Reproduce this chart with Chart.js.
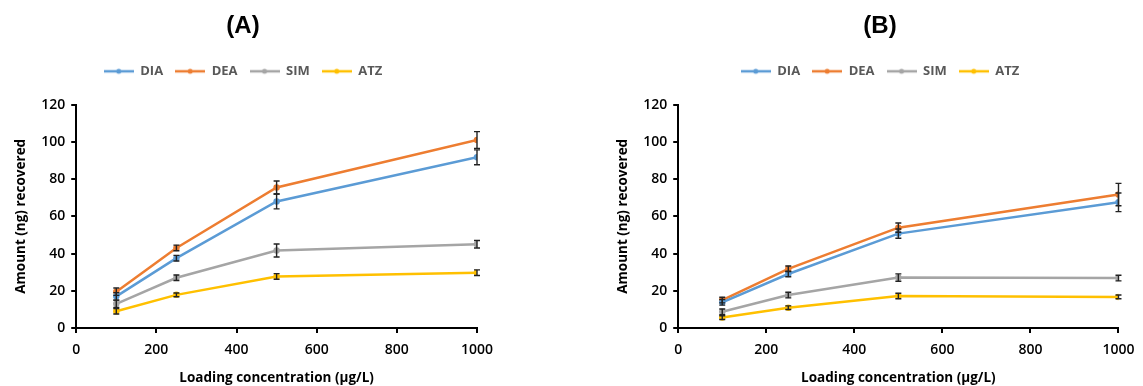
<!DOCTYPE html>
<html>
<head>
<meta charset="utf-8">
<script src="https://cdn.jsdelivr.net/npm/chart.js@4.4.0/dist/chart.umd.min.js"></script>
<style>
  body { margin: 0; background: #fff; overflow: hidden; }
  #wrapA { position: absolute; left: 0; top: 0; width: 545px; height: 386px; }
  #wrapB { position: absolute; left: 605px; top: 0; width: 538px; height: 386px; }
</style>
</head>
<body>
<div id="wrapA"><canvas id="chartA"></canvas></div>
<div id="wrapB"><canvas id="chartB"></canvas></div>
<script>
// loading concentration (ug/L)
var conc = [100, 250, 500, 1000];

// panel A
var diaA = [17, 37.5, 68, 91.7];
var deaA = [19.5, 43, 75.5, 101];
var simA = [13, 27, 41.6, 45];
var atzA = [9, 17.8, 27.7, 29.7];
var diaAErr = [2, 1.5, 4, 4];
var deaAErr = [2, 1.5, 3.5, 4.5];
var simAErr = [2, 1.5, 3.5, 2];
var atzAErr = [1.5, 1, 1.5, 1.5];

// panel B
var diaB = [13.8, 29, 50.7, 67.5];
var deaB = [15, 31.8, 53.9, 71.7];
var simB = [8.7, 17.7, 27.1, 26.8];
var atzB = [5.6, 10.9, 17.2, 16.7];
var diaBErr = [1.5, 1.5, 2.5, 5];
var deaBErr = [1.5, 1.5, 2.5, 6];
var simBErr = [1.5, 1.5, 2, 1.5];
var atzBErr = [1, 1, 1.5, 1];

var names = ["DIA", "DEA", "SIM", "ATZ"];
var colors = ["#5b9bd5", "#ed7d31", "#a5a5a5", "#ffc000"];
var xTicks = [0, 200, 400, 600, 800, 1000];
var yTicks = [0, 20, 40, 60, 80, 100, 120];

// legend symbol: short line with a dot in the middle
function legendSymbol(color) {
	var c = document.createElement("canvas");
	c.width = 30; c.height = 8;
	var g = c.getContext("2d");
	g.strokeStyle = color;
	g.lineWidth = 2.5;
	g.beginPath(); g.moveTo(0, 4); g.lineTo(30, 4); g.stroke();
	g.fillStyle = color;
	g.beginPath(); g.arc(15, 4, 2.5, 0, Math.PI * 2); g.fill();
	return c;
}

// error bars drawn through the chart scales
var errorBars = {
	id : "errorBars",
	afterDatasetsDraw : function(chart) {
		var ctx = chart.ctx;
		var xs = chart.scales.x, ys = chart.scales.y;
		ctx.save();
		ctx.strokeStyle = "#222";
		ctx.lineWidth = 1.4;
		chart.data.datasets.forEach(function(ds) {
			for (var i = 0; i < ds.data.length; i++) {
				var p = ds.data[i], e = ds.errors[i];
				var x = xs.getPixelForValue(p.x);
				var y1 = ys.getPixelForValue(p.y + e);
				var y2 = ys.getPixelForValue(p.y - e);
				ctx.beginPath();
				ctx.moveTo(x, y1); ctx.lineTo(x, y2);
				ctx.moveTo(x - 3, y1); ctx.lineTo(x + 3, y1);
				ctx.moveTo(x - 3, y2); ctx.lineTo(x + 3, y2);
				ctx.stroke();
			}
		});
		ctx.restore();
	}
};

var tickFont = { family : "Open Sans", size : 14, weight : "600" };
var axisFont = { family : "Open Sans", size : 13.5, weight : "bold" };

function makeChart(id, title, series, errs, pad) {
	var datasets = [];
	for (var s = 0; s < series.length; s++) {
		datasets.push({
			label : names[s],
			data : conc.map(function(c, i) { return { x : c, y : series[s][i] }; }),
			errors : errs[s],
			borderColor : colors[s],
			backgroundColor : colors[s],
			borderWidth : 2.5,
			pointRadius : 2,
			pointStyle : "circle",
			legendStyle : legendSymbol(colors[s]),
			fill : false,
			tension : 0
		});
	}

	return new Chart(document.getElementById(id), {
		type : "line",
		data : { datasets : datasets },
		plugins : [errorBars],
		options : {
			responsive : true,
			maintainAspectRatio : false,
			animation : false,
			layout : { padding : pad },
			plugins : {
				title : {
					display : true,
					text : title,
					color : "#000",
					font : { family : "Liberation Sans", size : 24, weight : "bold" },
					padding : { top : 12, bottom : 12 }
				},
				// blank spacer between legend and plot
				subtitle : {
					display : true,
					text : " ",
					weight : 500,
					font : { size : 4 },
					padding : { top : 0, bottom : 12 }
				},
				legend : {
					display : true,
					position : "top",
					labels : {
						usePointStyle : true,
						pointStyleWidth : 30,
						color : "#595959",
						font : { family : "Open Sans", size : 13, weight : "bold" },
						boxHeight : 8,
						padding : 12,
						generateLabels : function(chart) {
							return chart.data.datasets.map(function(d, i) {
								return {
									text : d.label,
									fillStyle : d.borderColor,
									strokeStyle : d.borderColor,
									pointStyle : d.legendStyle,
									fontColor : "#595959",
									datasetIndex : i,
									hidden : false
								};
							});
						}
					}
				},
				tooltip : { enabled : false }
			},
			scales : {
				x : {
					type : "linear",
					min : 0, max : 1000,
					afterBuildTicks : function(a) { a.ticks = xTicks.map(function(v) { return { value : v }; }); },
					border : { display : true, color : "#000", width : 2 },
					grid : { display : true, drawOnChartArea : false, drawTicks : true, tickLength : 5, color : "#000", lineWidth : 2 },
					ticks : { color : "#000", font : tickFont, padding : 8.5, maxRotation : 0, callback : function(v) { return String(v); } },
					title : {
						display : true,
						text : "Loading concentration (µg/L)",
						color : "#000",
						font : axisFont,
						padding : { top : 3, bottom : 0 }
					}
				},
				y : {
					min : 0, max : 120,
					afterBuildTicks : function(a) { a.ticks = yTicks.map(function(v) { return { value : v }; }); },
					border : { display : true, color : "#000", width : 2 },
					grid : { display : true, drawOnChartArea : false, drawTicks : true, tickLength : 5, color : "#000", lineWidth : 2 },
					ticks : { color : "#000", font : tickFont, padding : 6, callback : function(v) { return String(v); } },
					title : {
						display : true,
						text : "Amount (ng) recovered",
						color : "#000",
						font : axisFont,
						padding : { bottom : 6 }
					}
				}
			}
		}
	});
}

makeChart("chartA", "(A)", [diaA, deaA, simA, atzA], [diaAErr, deaAErr, simAErr, atzAErr], { left : 9, right : 68, top : 0, bottom : 0 });
makeChart("chartB", "(B)", [diaB, deaB, simB, atzB], [diaBErr, deaBErr, simBErr, atzBErr], { left : 6, right : -6, top : 0, bottom : 0 });
</script>
</body>
</html>
